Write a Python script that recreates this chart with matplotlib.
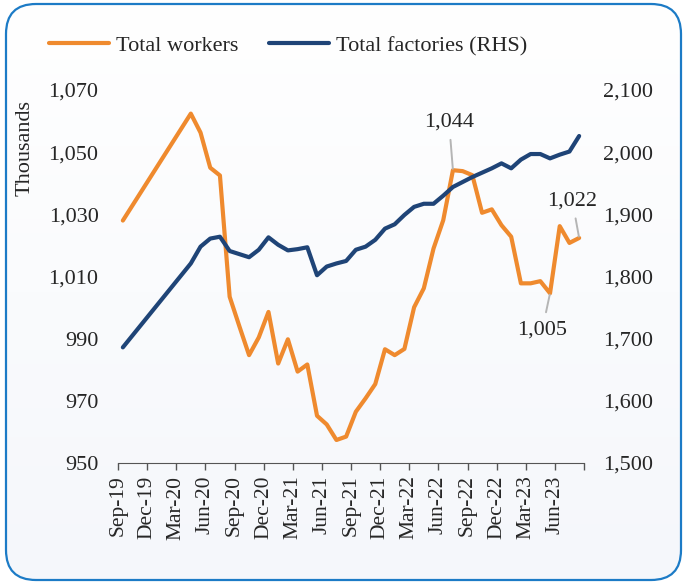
import matplotlib
matplotlib.use("Agg")
import matplotlib.pyplot as plt
import numpy as np
import pandas as pd
from matplotlib.patches import FancyBboxPatch
from matplotlib.ticker import FuncFormatter

plt.rcParams['font.family'] = ['Liberation Serif', 'DejaVu Serif']
plt.rcParams['font.size'] = 16

##### Data #####
months = ["Sep-19",
          "Apr-20", "May-20", "Jun-20", "Jul-20", "Aug-20", "Sep-20", "Oct-20", "Nov-20", "Dec-20",
          "Jan-21", "Feb-21", "Mar-21", "Apr-21", "May-21", "Jun-21",
          "Jul-21", "Aug-21", "Sep-21", "Oct-21", "Nov-21", "Dec-21",
          "Jan-22", "Feb-22", "Mar-22", "Apr-22", "May-22", "Jun-22",
          "Jul-22", "Aug-22", "Sep-22", "Oct-22", "Nov-22", "Dec-22",
          "Jan-23", "Feb-23", "Mar-23", "Apr-23", "May-23", "Jun-23", "Jul-23", "Aug-23"]

# thousands
workers = [1028.0,
           1062.4, 1056.3, 1045.0, 1042.5, 1003.5, 994.0, 984.7, 990.4, 998.6,
           982.0, 989.8, 979.4, 981.7, 965.2, 962.4,
           957.4, 958.5, 966.5, 970.8, 975.4, 986.6,
           984.7, 986.7, 1000.1, 1006.2, 1019.0, 1028.1,
           1044.2, 1043.9, 1042.6, 1030.5, 1031.6, 1026.5,
           1022.8, 1007.8, 1007.8, 1008.5, 1004.6, 1026.2, 1020.8, 1022.4]

factories = [1686,
             1821, 1848, 1861, 1864, 1841, 1836, 1831, 1843, 1863,
             1851, 1842, 1844, 1847, 1802, 1816,
             1821, 1825, 1843, 1848, 1859, 1877,
             1884, 1899, 1912, 1917, 1917, 1930,
             1944, 1952, 1960, 1967, 1974, 1982,
             1974, 1988, 1997, 1997, 1990, 1996, 2001, 2026]

tick_labels = ["Sep-19", "Dec-19", "Mar-20", "Jun-20", "Sep-20", "Dec-20", "Mar-21", "Jun-21",
               "Sep-21", "Dec-21", "Mar-22", "Jun-22", "Sep-22", "Dec-22", "Mar-23", "Jun-23"]

# labelled points: (month, value text)
callouts = [("Jul-22", "1,044"), ("Aug-23", "1,022"), ("May-23", "1,005")]

ORANGE = '#EF8A2E'
NAVY = '#1F4477'
TEXT = '#262626'


def month_index(labels, start="Sep-19"):
    """Months since start, so each month is one slot on the axis."""
    d = pd.to_datetime(pd.Series(labels), format="%b-%y")
    s = pd.to_datetime(start, format="%b-%y")
    return ((d.dt.year - s.year) * 12 + (d.dt.month - s.month)).to_numpy()


x = month_index(months)
x_ticks = month_index(tick_labels) - 0.5
n_slots = month_index(["Aug-23"])[0] + 1

fig = plt.figure(figsize=(6.86, 5.83), dpi=100)

# background card with rounded blue border
bg = fig.add_axes([0, 0, 1, 1], zorder=-5)
bg.set_xlim(0, 686)
bg.set_ylim(0, 583)
bg.axis('off')
card = FancyBboxPatch((6, 3), 675, 576, boxstyle="round,pad=0,rounding_size=30",
                      facecolor='none', edgecolor='#1C7BC6', linewidth=1.6)
bg.add_patch(card)
grad = np.linspace(0, 1, 256).reshape(-1, 1)
img = bg.imshow(grad, extent=(0, 686, 0, 583), origin='lower', aspect='auto',
                cmap=matplotlib.colors.LinearSegmentedColormap.from_list('bgc', ['#F5F7FB', '#FFFFFF']),
                zorder=0)
img.set_clip_path(card)

ax = fig.add_axes([118 / 686, 1 - 463 / 583, (584 - 118) / 686, (463 - 90) / 583])
ax.patch.set_alpha(0)
ax2 = ax.twinx()

ax.plot(x, workers, color=ORANGE, lw=3, solid_capstyle='round', solid_joinstyle='round',
        label='Total workers')
ax2.plot(x, factories, color=NAVY, lw=3, solid_capstyle='round', solid_joinstyle='round',
         label='Total factories (RHS)')

ax.set_xlim(-0.5, n_slots - 0.5)
ax.set_ylim(950, 1070)
ax.set_yticks(np.arange(950, 1071, 20))
ax2.set_ylim(1500, 2100)
ax2.set_yticks(np.arange(1500, 2101, 100))
fmt = FuncFormatter(lambda v, _: f"{v:,.0f}")
ax.yaxis.set_major_formatter(fmt)
ax2.yaxis.set_major_formatter(fmt)

ax.set_xticks(list(x_ticks) + [n_slots - 0.5])
ax.set_xticklabels(tick_labels + [""], rotation=90, color=TEXT, fontsize=15.5)
ax.tick_params(axis='x', length=5, width=1, color='#555555', direction='out', pad=4)
ax.tick_params(axis='y', length=0, pad=14, labelcolor=TEXT)
ax2.tick_params(axis='y', length=0, pad=14, labelcolor=TEXT)

for a in (ax, ax2):
    for side in ('top', 'left', 'right', 'bottom'):
        a.spines[side].set_visible(False)
ax.spines['bottom'].set_visible(True)
ax.spines['bottom'].set_color('#555555')

fig.text(25 / 686, 1 - 148 / 583, "Thousands", rotation=90, ha='center', va='center',
         color=TEXT, fontsize=16)

# callout labels with grey leader lines
offsets = {"1,044": (-0.4, 15.5), "1,022": (-0.7, 12.0), "1,005": (-0.8, -11.8)}
for m, txt in callouts:
    i = months.index(m)
    dx, dy = offsets[txt]
    ax.annotate(txt, xy=(x[i], workers[i]), xytext=(x[i] + dx, workers[i] + dy),
                ha='center', va='center', color=TEXT, fontsize=16,
                arrowprops=dict(arrowstyle='-', color='#B5B5B5', lw=1.4,
                                shrinkA=4, shrinkB=1))

h1, l1 = ax.get_legend_handles_labels()
h2, l2 = ax2.get_legend_handles_labels()
fig.legend(h1 + h2, l1 + l2, loc='center left', bbox_to_anchor=(29 / 686, 1 - 46 / 583),
           ncol=2, frameon=False, handlelength=2.7, handletextpad=0.3,
           columnspacing=1.4, fontsize=16, labelcolor=TEXT)

fig.savefig("out.png", dpi=100)
